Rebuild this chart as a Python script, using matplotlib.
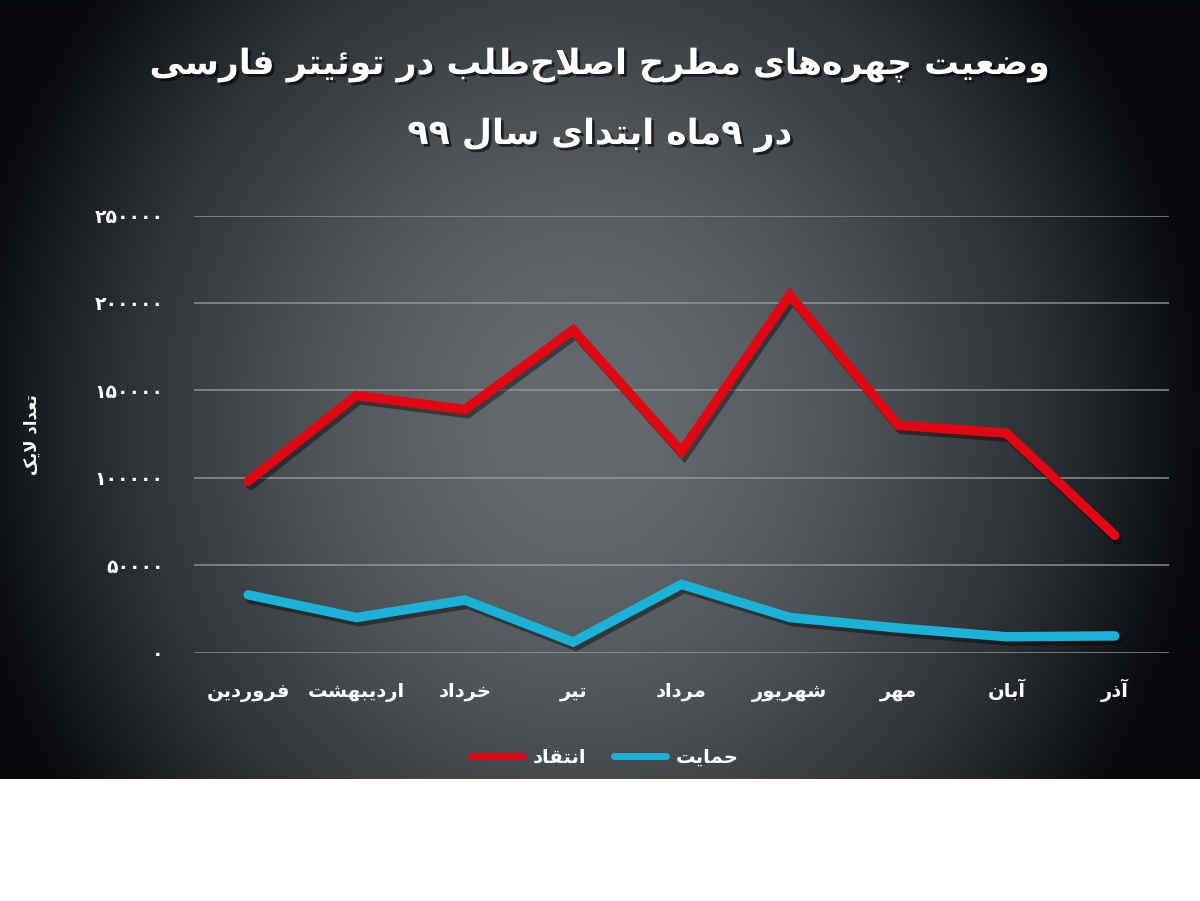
import numpy as np
import matplotlib
matplotlib.use('Agg')
import matplotlib.pyplot as plt
import matplotlib.patheffects as pe

# data
months = ['فروردین', 'اردیبهشت', 'خرداد', 'تیر', 'مرداد',
          'شهریور', 'مهر', 'آبان', 'آذر']
criticism = [98000, 147000, 139000, 184500, 115000, 204500, 130000, 125500, 67000]
support = [33000, 20000, 30000, 6000, 39000, 20000, 14000, 9000, 9500]
yticks = [0, 50000, 100000, 150000, 200000, 250000]
title_1 = 'وضعیت چهره‌های مطرح اصلاح‌طلب در توئیتر فارسی'
title_2 = 'در ۹ماه ابتدای سال ۹۹'
ylabel = 'تعداد لایک'
series_names = ['انتقاد', 'حمایت']

# --- minimal Arabic/Persian shaping (matplotlib has no bidi/shaping) ---
# letter -> (isolated, final, initial, medial); right-joining letters have 2 forms
FORMS = {
    'ء': (0xFE80,), 'آ': (0xFE81, 0xFE82), 'أ': (0xFE83, 0xFE84),
    'ؤ': (0xFE85, 0xFE86), 'إ': (0xFE87, 0xFE88),
    'ئ': (0xFE89, 0xFE8A, 0xFE8B, 0xFE8C), 'ا': (0xFE8D, 0xFE8E),
    'ب': (0xFE8F, 0xFE90, 0xFE91, 0xFE92), 'ة': (0xFE93, 0xFE94),
    'ت': (0xFE95, 0xFE96, 0xFE97, 0xFE98), 'ث': (0xFE99, 0xFE9A, 0xFE9B, 0xFE9C),
    'ج': (0xFE9D, 0xFE9E, 0xFE9F, 0xFEA0), 'ح': (0xFEA1, 0xFEA2, 0xFEA3, 0xFEA4),
    'خ': (0xFEA5, 0xFEA6, 0xFEA7, 0xFEA8), 'د': (0xFEA9, 0xFEAA),
    'ذ': (0xFEAB, 0xFEAC), 'ر': (0xFEAD, 0xFEAE), 'ز': (0xFEAF, 0xFEB0),
    'س': (0xFEB1, 0xFEB2, 0xFEB3, 0xFEB4), 'ش': (0xFEB5, 0xFEB6, 0xFEB7, 0xFEB8),
    'ص': (0xFEB9, 0xFEBA, 0xFEBB, 0xFEBC), 'ض': (0xFEBD, 0xFEBE, 0xFEBF, 0xFEC0),
    'ط': (0xFEC1, 0xFEC2, 0xFEC3, 0xFEC4), 'ظ': (0xFEC5, 0xFEC6, 0xFEC7, 0xFEC8),
    'ع': (0xFEC9, 0xFECA, 0xFECB, 0xFECC), 'غ': (0xFECD, 0xFECE, 0xFECF, 0xFED0),
    'ف': (0xFED1, 0xFED2, 0xFED3, 0xFED4), 'ق': (0xFED5, 0xFED6, 0xFED7, 0xFED8),
    'ك': (0xFED9, 0xFEDA, 0xFEDB, 0xFEDC), 'ل': (0xFEDD, 0xFEDE, 0xFEDF, 0xFEE0),
    'م': (0xFEE1, 0xFEE2, 0xFEE3, 0xFEE4), 'ن': (0xFEE5, 0xFEE6, 0xFEE7, 0xFEE8),
    'ه': (0xFEE9, 0xFEEA, 0xFEEB, 0xFEEC), 'و': (0xFEED, 0xFEEE),
    'ى': (0xFEEF, 0xFEF0), 'ي': (0xFEF1, 0xFEF2, 0xFEF3, 0xFEF4),
    'پ': (0xFB56, 0xFB57, 0xFB58, 0xFB59), 'چ': (0xFB7A, 0xFB7B, 0xFB7C, 0xFB7D),
    'ژ': (0xFB8A, 0xFB8B), 'ک': (0xFB8E, 0xFB8F, 0xFB90, 0xFB91),
    'گ': (0xFB92, 0xFB93, 0xFB94, 0xFB95), 'ی': (0xFBFC, 0xFBFD, 0xFBFE, 0xFBFF),
}
LAM_ALEF = {'ا': (0xFEFB, 0xFEFC), 'آ': (0xFEF5, 0xFEF6),
            'أ': (0xFEF7, 0xFEF8), 'إ': (0xFEF9, 0xFEFA)}


def joins_next(ch):
    return ch in FORMS and len(FORMS[ch]) == 4


def fa(text):
    out = []
    i = 0
    n = len(text)
    while i < n:
        ch = text[i]
        if ch not in FORMS:
            out.append(ch)
            i += 1
            continue
        prev = text[i - 1] if i > 0 else ''
        joined_prev = joins_next(prev)
        if ch == 'ل' and i + 1 < n and text[i + 1] in LAM_ALEF:
            lig = LAM_ALEF[text[i + 1]]
            out.append(chr(lig[1] if joined_prev else lig[0]))
            i += 2
            continue
        nxt = text[i + 1] if i + 1 < n else ''
        joined_next = joins_next(ch) and nxt in FORMS and nxt != 'ء'
        f = FORMS[ch]
        if len(f) == 1:
            out.append(chr(f[0]))
        elif joined_prev and joined_next:
            out.append(chr(f[3]))
        elif joined_prev:
            out.append(chr(f[1]))
        elif joined_next:
            out.append(chr(f[2]))
        else:
            out.append(chr(f[0]))
        i += 1
    s = ''.join(c for c in out if c != '\u200c')
    return s[::-1]


def fa_digits(v):
    return str(v).translate(str.maketrans('0123456789', '۰۱۲۳۴۵۶۷۸۹'))


plt.rcParams['font.family'] = ['DejaVu Sans']

fig = plt.figure(figsize=(12, 9.01), dpi=100)
fig.patch.set_facecolor('white')

# dark panel with a radial gradient behind the chart
panel_bottom = 122 / 901
bg = fig.add_axes([0, panel_bottom, 1, 1 - panel_bottom], zorder=0)
W, H = 1200, 779
yy, xx = np.mgrid[0:H:2, 0:W:2]
r2 = ((xx - 580) / 620.0) ** 2 + ((yy - 420) / 680.0) ** 2
t = np.clip(r2, 0, 1) ** 0.85
c_mid = np.array([100, 106, 110]) / 255
c_edge = np.array([8, 10, 13]) / 255
img = c_mid[None, None, :] * (1 - t[..., None]) + c_edge[None, None, :] * t[..., None]
bg.imshow(img, aspect='auto', extent=[0, 1, 0, 1], interpolation='bilinear')
bg.set_axis_off()

ax = fig.add_axes([194 / 1200, (901 - 652.5) / 901, 975 / 1200, 437 / 901], zorder=1)
ax.patch.set_alpha(0)
x = np.arange(len(months))

shadow = [pe.SimpleLineShadow(offset=(2, -3), shadow_color='black', alpha=0.4),
          pe.Normal()]
ax.plot(x, criticism, color='#e30613', lw=6.8, solid_capstyle='round',
        solid_joinstyle='miter', path_effects=shadow, label=fa(series_names[0]), zorder=3)
ax.plot(x, support, color='#1ab2d6', lw=6.8, solid_capstyle='round',
        solid_joinstyle='miter', path_effects=shadow, label=fa(series_names[1]), zorder=3)

ax.set_xlim(-0.5, len(months) - 0.5)
ax.set_ylim(0, 250000)
ax.set_yticks(yticks)
ax.set_yticklabels([fa_digits(v) for v in yticks], fontsize=13.5, fontweight='bold', color='white')
ax.set_xticks(x)
ax.set_xticklabels([fa(m) for m in months], fontsize=14, fontweight='bold', color='white',
                   va='baseline')
ax.tick_params(axis='both', length=0)
ax.tick_params(axis='y', pad=22)
ax.tick_params(axis='x', pad=32)
ax.grid(axis='y', color='#9a9ea2', lw=1.2, alpha=0.8)
ax.set_axisbelow(True)
for s in ax.spines.values():
    s.set_visible(False)

txt_shadow = [pe.withSimplePatchShadow(offset=(2, -2), shadow_rgbFace='black', alpha=0.6)]
fig.text(0.5, 1 - 65 / 901, fa(title_1), ha='center', va='center', fontsize=25,
         fontweight='bold', color='white', path_effects=txt_shadow)
fig.text(0.5, 1 - 135 / 901, fa(title_2), ha='center', va='center', fontsize=25,
         fontweight='bold', color='white', path_effects=txt_shadow)
fig.text(32 / 1200, 1 - 435 / 901, fa(ylabel), rotation=90, ha='center', va='center',
         fontsize=12, fontweight='bold', color='white')

leg = ax.legend(loc='center', bbox_to_anchor=(605 / 1200, 1 - 757 / 901),
                bbox_transform=fig.transFigure, ncol=2, frameon=False,
                handlelength=2.7, handletextpad=0.5, columnspacing=1.4,
                prop={'size': 14, 'weight': 'bold'}, labelcolor='white')
for h in leg.get_lines():
    h.set_linewidth(5)
    h.set_path_effects([])

fig.savefig('out.png', dpi=100, facecolor='white')
